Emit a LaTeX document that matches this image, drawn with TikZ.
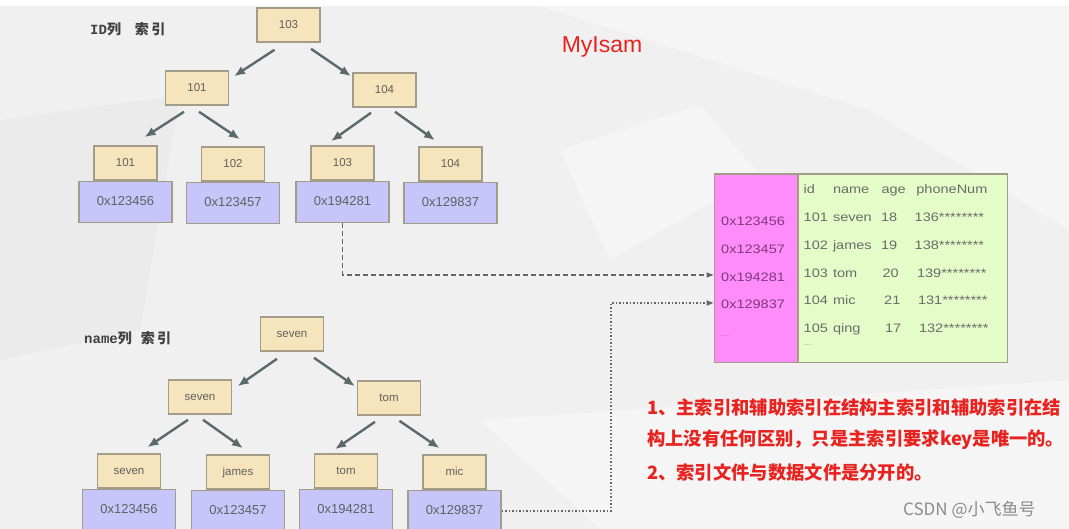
\documentclass[tikz,border=0pt]{standalone}
\usepackage{fontspec}
\setmainfont{Liberation Sans}
\setmonofont{Liberation Mono}
\newfontfamily\cjk{Noto Sans CJK SC}
\newfontfamily\tabfont[FakeStretch=1.18]{Liberation Sans}
\usetikzlibrary{positioning,arrows.meta}

\definecolor{keyfill}{HTML}{F6E4BC}
\definecolor{adrfill}{HTML}{C6C6FA}
\definecolor{boxline}{HTML}{A39C88}
\definecolor{arrgray}{HTML}{5B6B69}
\definecolor{pinkcol}{HTML}{FF8CF8}
\definecolor{greencol}{HTML}{E4FDC8}
\definecolor{notered}{HTML}{E8221E}
\definecolor{bggray}{HTML}{F0F0F0}
\definecolor{bglight}{HTML}{F5F5F5}
\definecolor{bgdark}{HTML}{EBEBEB}

\tikzset{
  keybox/.style={draw=boxline, line width=1.6pt, fill=keyfill, minimum width=63pt,
    minimum height=34pt, inner sep=0pt, text=black!62, text height=1.6ex, text depth=.3ex,
    font=\fontsize{11.5}{12}\selectfont},
  adrbox/.style={keybox, fill=adrfill, minimum width=93pt, minimum height=41pt,
    font=\fontsize{13}{14}\selectfont},
  link/.style={-{Latex[length=11pt,width=9pt]}, draw=arrgray, line width=2.4pt},
  treelbl/.style={anchor=west, inner sep=0pt, text=black!75, font=\bfseries\fontsize{14}{15}\selectfont},
  cell/.style={anchor=base west, inner sep=0pt, text=black!58, font=\tabfont\fontsize{12.3}{13}\selectfont},
  adrcell/.style={cell, text=violet!55!gray},
  note/.style={anchor=west, inner sep=0pt, text=notered, font=\cjk\bfseries\fontsize{18.3}{20}\selectfont},
  dashline/.style={dashed, dash pattern=on 5pt off 3pt, draw=black!60, line width=1.2pt,
    -{Triangle[length=7pt,width=5pt]}},
  dotline/.style={dash pattern=on 1.5pt off 2pt, draw=black!60, line width=1.6pt,
    -{Triangle[length=7pt,width=5pt]}}
}

\begin{document}
\begin{tikzpicture}[x=1pt, y=-1pt]
  \useasboundingbox (0,0) rectangle (1069,529);
  % background
  \fill[bggray] (0,0) rectangle (1069,529);
  \fill[bglight] (540,6) -- (1069,6) -- (1069,230) -- (870,110) -- cycle;
  \fill[bgdark] (0,120) -- (180,95) -- (140,330) -- (0,360) -- cycle;
  \fill[bglight] (480,420) -- (1069,380) -- (1069,529) -- (600,529) -- cycle;
  \fill[bglight] (560,150) -- (700,105) -- (760,175) -- (610,260) -- cycle;
  \fill[white] (0,0) rectangle (1069,6);

  % ID index tree
  \node[treelbl] (idl) at (90,29) {\ttfamily ID\cjk 列\hspace{14pt}索\,引};
  \node[keybox] (r) at (288.5,25) {103};
  \node[keybox] (a) at (197,88) {101};
  \node[keybox] (b) at (384.5,90) {104};
  \node[keybox] (k1) at (125.5,163) {101};
  \node[keybox] (k2) at (233,164) {102};
  \node[keybox] (k3) at (342.5,163) {103};
  \node[keybox] (k4) at (450.5,164) {104};
  \node[adrbox, below=0pt of k1] (p1) {0x123456};
  \node[adrbox, below=0pt of k2] (p2) {0x123457};
  \node[adrbox, below=0pt of k3] (p3) {0x194281};
  \node[adrbox, below=0pt of k4] (p4) {0x129837};

  \draw[link] ([shift={(-14,7)}]r.south) -- ([shift={(37,6)}]a.north);
  \draw[link] ([shift={(22.5,6)}]r.south) -- ([shift={(-33.5,4)}]b.north);
  \draw[link] ([shift={(-13,6)}]a.south) -- ([shift={(19,-8)}]k1.north);
  \draw[link] ([shift={(2,6)}]a.south) -- ([shift={(7,-7)}]k2.north);
  \draw[link] ([shift={(-13.5,5)}]b.south) -- ([shift={(-11.5,-4)}]k3.north);
  \draw[link] ([shift={(10.5,4)}]b.south) -- ([shift={(-15.5,-6)}]k4.north);

  % name index tree
  \node[treelbl] (nml) at (84,338) {\ttfamily name\cjk 列\hspace{9pt}索\,引};
  \node[keybox] (s) at (292,334) {seven};
  \node[keybox] (c) at (200,397) {seven};
  \node[keybox] (d) at (389,398) {tom};
  \node[keybox] (j1) at (129,471) {seven};
  \node[keybox] (j2) at (238,472) {james};
  \node[keybox] (j3) at (346,471) {tom};
  \node[keybox] (j4) at (454.5,472) {mic};
  \node[adrbox, below=0pt of j1] (q1) {0x123456};
  \node[adrbox, below=0pt of j2] (q2) {0x123457};
  \node[adrbox, below=0pt of j3] (q3) {0x194281};
  \node[adrbox, below=0pt of j4] (q4) {0x129837};

  \draw[link] ([shift={(-15,7)}]s.south) -- ([shift={(37.6,7)}]c.north);
  \draw[link] ([shift={(22,6)}]s.south) -- ([shift={(-34,6)}]d.north);
  \draw[link] ([shift={(-12,5)}]c.south) -- ([shift={(18.4,-6)}]j1.north);
  \draw[link] ([shift={(3,5)}]c.south) -- ([shift={(5,-6)}]j2.north);
  \draw[link] ([shift={(-14,6)}]d.south) -- ([shift={(-11,-4)}]j3.north);
  \draw[link] ([shift={(10.4,5)}]d.south) -- ([shift={(-15,-6)}]j4.north);

  % data file
  \node[draw=boxline, line width=1.6pt, fill=pinkcol, minimum width=83.6pt,
        minimum height=188.7pt, inner sep=0pt] (pk) at (756.2,268.35) {};
  \node[draw=boxline, line width=1.6pt, fill=greencol, minimum width=209.3pt,
        minimum height=188.7pt, inner sep=0pt] (gr) at (902.65,268.35) {};

  \node[adrcell] (m1) at (721,226) {0x123456};
  \node[adrcell] (m2) at (721,253.5) {0x123457};
  \node[adrcell] (m3) at (721,281.5) {0x194281};
  \node[adrcell] (m4) at (721,309) {0x129837};
  \node[adrcell] (m5) at (721,337) {\tiny .....};

  \node[cell] (h1) at (803.5,194) {id}; \node[cell] (h2) at (832.8,194) {name};
  \node[cell] (h3) at (881.4,194) {age}; \node[cell] (h4) at (916.2,194) {phoneNum};
  \node[cell] (a1) at (803.5,222) {101}; \node[cell] (b1) at (832.8,222) {seven};
  \node[cell] (c1) at (880.8,222) {18}; \node[cell] (d1) at (914.5,222) {136********};
  \node[cell] (a2) at (803.5,249.5) {102}; \node[cell] (b2) at (832.8,249.5) {james};
  \node[cell] (c2) at (880.8,249.5) {19}; \node[cell] (d2) at (914.5,249.5) {138********};
  \node[cell] (a3) at (803.5,277.5) {103}; \node[cell] (b3) at (832.8,277.5) {tom};
  \node[cell] (c3) at (882.4,277.5) {20}; \node[cell] (d3) at (916.9,277.5) {139********};
  \node[cell] (a4) at (803.5,305) {104}; \node[cell] (b4) at (832.8,305) {mic};
  \node[cell] (c4) at (884,305) {21}; \node[cell] (d4) at (917.9,305) {131********};
  \node[cell] (a5) at (803.5,333) {105}; \node[cell] (b5) at (832.8,333) {qing};
  \node[cell] (c5) at (884.8,333) {17}; \node[cell] (d5) at (918.9,333) {132********};
  \node[cell] (a6) at (803.5,346) {\tiny .....};

  % pointers into the data file
  \coordinate (turn) at (611,303);
  \draw[dashline] (p3.south) |- (pk.west |- 0,275);
  \draw[dotline] (q4.east) -| (turn) -- (pk.west |- turn);

  \node[text=notered, font=\fontsize{23}{24}\selectfont] (title) at (602,47) {MyIsam};
  \node[note] (n1) at (647,407) {1、主索引和辅助索引在结构主索引和辅助索引在结};
  \node[note] (n2) at (647,440) {构上没有任何区别，只是主索引要求key是唯一的。};
  \node[note] (n3) at (647,472) {2、索引文件与数据文件是分开的。};
  \node[anchor=west, inner sep=0pt, text=black!45, font=\cjk\fontsize{17}{18}\selectfont] (wm)
    at (903,510) {CSDN @小飞鱼号};
\end{tikzpicture}
\end{document}
